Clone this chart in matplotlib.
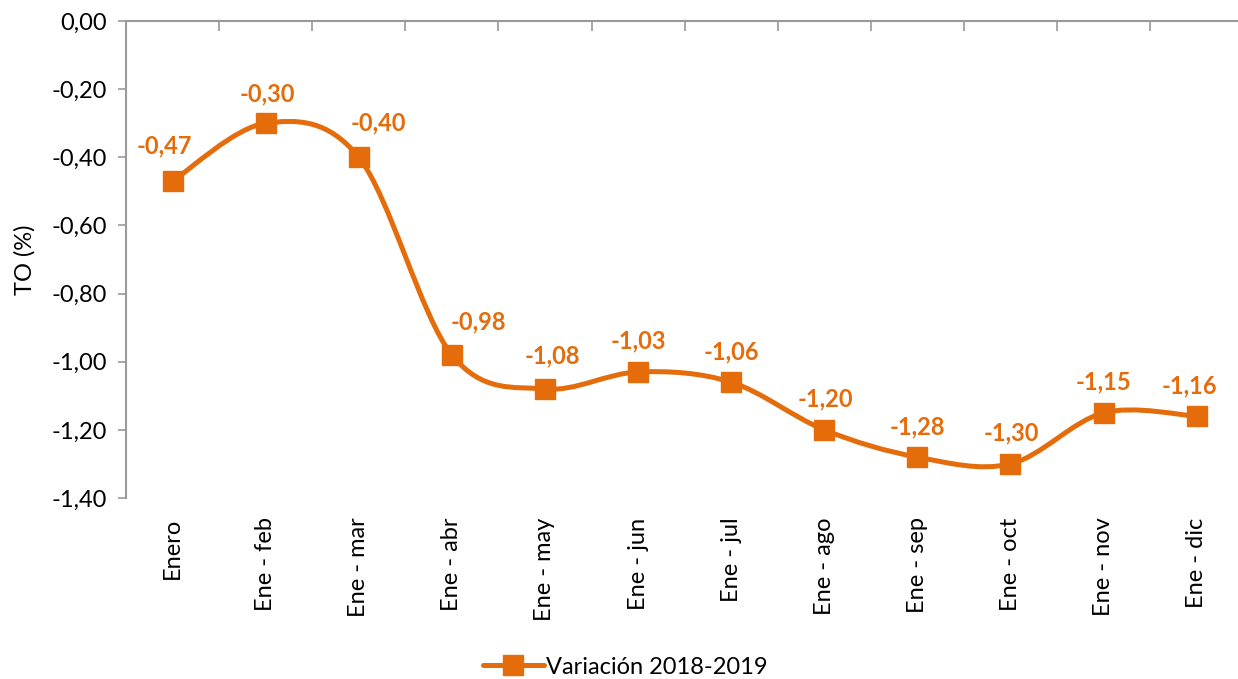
import matplotlib
matplotlib.use("Agg")
import matplotlib.pyplot as plt
from matplotlib.path import Path
from matplotlib.patches import PathPatch
from matplotlib.lines import Line2D
import numpy as np

categories = ["Enero", "Ene - feb", "Ene - mar", "Ene - abr", "Ene - may", "Ene - jun",
              "Ene - jul", "Ene - ago", "Ene - sep", "Ene - oct", "Ene - nov", "Ene - dic"]
values = [-0.47, -0.30, -0.40, -0.98, -1.08, -1.03, -1.06, -1.20, -1.28, -1.30, -1.15, -1.16]
series_name = "Variación 2018-2019"
yticks = [0.0, -0.2, -0.4, -0.6, -0.8, -1.0, -1.2, -1.4]

# label offsets (points) for data labels
label_dx = [-6, 1, 14, 19, 5, 0, 0, 1, 0, 1, 0, -5]
label_dy = [25, 21, 25, 24, 24, 22, 22, 22, 22, 22, 22, 22]

COLOR = "#E46C0A"
AXC = "#9A9A9A"
FS = 17
plt.rcParams['font.family'] = ['Lato', 'DejaVu Sans']

fig = plt.figure(figsize=(12.38, 6.79), dpi=100)
ax = fig.add_axes([126/1238, 1-498/679, 1-126/1238, (498-21)/679])

x = np.arange(len(values))
y = np.array(values, dtype=float)

# Smoothed line (Catmull-Rom style Bezier, like Excel smoothing)
verts = [(x[0], y[0])]
codes = [Path.MOVETO]
n = len(x)
t = 1/6
for i in range(n-1):
    p0 = (x[i-1], y[i-1]) if i > 0 else (x[i], y[i])
    p1 = (x[i], y[i])
    p2 = (x[i+1], y[i+1])
    p3 = (x[i+2], y[i+2]) if i+2 < n else (x[i+1], y[i+1])
    c1 = (p1[0] + (p2[0]-p0[0])*t, p1[1] + (p2[1]-p0[1])*t)
    c2 = (p2[0] - (p3[0]-p1[0])*t, p2[1] - (p3[1]-p1[1])*t)
    verts += [c1, c2, p2]
    codes += [Path.CURVE4]*3
ax.add_patch(PathPatch(Path(verts, codes), facecolor='none', edgecolor=COLOR,
                       lw=3.6, capstyle='round', joinstyle='round', zorder=2))
ax.plot(x, y, linestyle='none', marker='s', ms=14, color=COLOR, zorder=3)

for xi, yi, dx, dy in zip(x, y, label_dx, label_dy):
    ax.annotate(f"{yi:.2f}".replace('.', ','), (xi, yi), xytext=(dx, dy),
                textcoords='offset points', ha='center', va='center',
                fontsize=FS, fontweight='bold', color=COLOR)

ax.set_xlim(-0.5, (1238-126)/93.1 - 0.5)
ax.set_ylim(-1.4, 0.0)
ax.set_yticks(yticks)
ax.set_yticklabels([f"{v:.2f}".replace('.', ',') for v in yticks], fontsize=FS)
ax.tick_params(axis='y', direction='out', length=6, width=1.2, color=AXC, pad=8)

ax.set_xticks(x)
ax.set_xticklabels(categories, rotation=90, fontsize=FS, va='top', ha='center')
ax.tick_params(axis='x', bottom=False, length=0, pad=14)

# top axis (y=0) with category boundary ticks
ax.spines['right'].set_visible(False)
ax.spines['bottom'].set_visible(False)
ax.spines['top'].set_color(AXC)
ax.spines['top'].set_linewidth(1.5)
ax.spines['left'].set_color(AXC)
ax.spines['left'].set_linewidth(1.5)
sec = ax.secondary_xaxis('top')
sec.set_xticks(np.arange(0.5, len(values), 1.0))
sec.set_xticklabels([])
sec.tick_params(direction='in', length=7, width=1.2, color=AXC)
sec.spines['top'].set_visible(False)

ax.set_ylabel("TO (%)", fontsize=FS)
ax.yaxis.set_label_coords(-0.081, 0.5)

handle = Line2D([], [], color=COLOR, lw=3.6, marker='s', ms=14, solid_capstyle='round')
fig.legend([handle], [series_name], loc='center', bbox_to_anchor=(0.505, 1-667/679),
           frameon=False, fontsize=FS, handlelength=2.6, handletextpad=0.1)

fig.savefig("out.png", dpi=100)
